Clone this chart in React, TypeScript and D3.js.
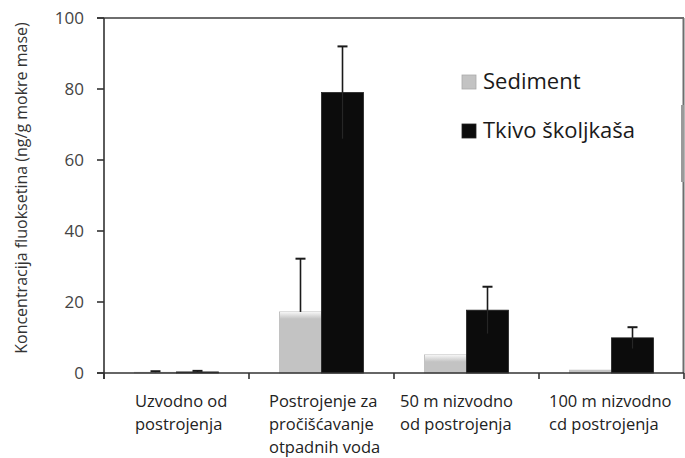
import React from "react";
import * as d3 from "d3";

const categories = [
  ["Uzvodno od", "postrojenja"],
  ["Postrojenje za", "pročišćavanje", "otpadnih voda"],
  ["50 m nizvodno", "od postrojenja"],
  ["100 m nizvodno", "cd postrojenja"],
];
const seriesNames = ["Sediment", "Tkivo školjkaša"];
const sedimentValues = [0.2, 17.2, 5.1, 0.8];
const sedimentErrors = [0.3, 15.0, 0, 0];
const tissueValues = [0.3, 79.0, 17.7, 9.9];
const tissueErrors = [0.3, 13.0, 6.6, 3.0];
const yTicks = [0, 20, 40, 60, 80, 100];
const yLabel = "Koncentracija fluoksetina (ng/g mokre mase)";

const W = 685;
const H = 458;
const left = 104;
const right = 684;
const top = 18;
const bottom = 373;
const labelOffsets = [31, 20, 6, 10];
const FONT = "'Open Sans', 'DejaVu Sans', sans-serif";

export default function App() {
  const x = d3
    .scaleBand<number>()
    .domain(d3.range(categories.length))
    .range([left, right])
    .padding(0);
  const inner = d3
    .scaleBand<number>()
    .domain([0, 1])
    .range([0, x.bandwidth()])
    .paddingInner(0)
    .paddingOuter(0.726);
  const y = d3.scaleLinear().domain([0, 100]).range([bottom, top]);
  const bw = inner.bandwidth();

  const series = [
    { values: sedimentValues, errors: sedimentErrors, fill: "#c3c3c3", dark: false },
    { values: tissueValues, errors: tissueErrors, fill: "#0c0c0c", dark: true },
  ];

  return (
    <svg
      width={W}
      height={H}
      style={{ position: "absolute", left: 0, top: 0, background: "#fff" }}
      fontFamily={FONT}
    >
      <defs>
        <linearGradient id="sedTop" x1="0" y1="0" x2="0" y2="1">
          <stop offset="0" stopColor="#f6f6f6" />
          <stop offset="1" stopColor="#c3c3c3" />
        </linearGradient>
      </defs>
      {/* frame top & right */}
      <line x1={97} x2={right} y1={top} y2={top} stroke="#6e6e6e" strokeWidth={2} />
      <line x1={right - 0.5} x2={right - 0.5} y1={top} y2={bottom} stroke="#6e6e6e" strokeWidth={2} />
      <line x1={right - 1.5} x2={right - 1.5} y1={105} y2={182} stroke="#9a9a9a" strokeWidth={3} />

      {/* bars */}
      {series.map((s, si) =>
        s.values.map((v, i) => {
          const bx = (x(i) as number) + (inner(si) as number);
          const by = y(v);
          const h = bottom - by;
          return (
            <g key={`b${si}-${i}`}>
              <rect x={bx} y={by} width={bw} height={h} fill={s.fill} stroke={s.dark ? "#222" : "#bbb"} strokeWidth={0.8} />
              {!s.dark && h > 4 && (
                <rect x={bx + 0.5} y={by} width={bw - 1} height={Math.min(7, h)} fill="url(#sedTop)" />
              )}
            </g>
          );
        })
      )}

      {/* error bars */}
      {series.map((s, si) =>
        s.values.map((v, i) => {
          const e = s.errors[i];
          if (!e) return null;
          const cx = (x(i) as number) + (inner(si) as number) + bw / 2;
          return (
            <g key={`e${si}-${i}`} stroke="#1a1a1a" strokeWidth={1.6}>
              {s.dark && (
                <line x1={cx} x2={cx} y1={y(v)} y2={y(Math.max(0, v - e))} stroke="#262626" strokeWidth={1.2} />
              )}
              <line x1={cx} x2={cx} y1={y(v + e)} y2={y(v)} />
              <line x1={cx - 5} x2={cx + 5} y1={y(v + e)} y2={y(v + e)} strokeWidth={2} />
            </g>
          );
        })
      )}

      {/* axes */}
      <line x1={97} x2={right} y1={bottom} y2={bottom} stroke="#333" strokeWidth={1.6} />
      <line x1={left} x2={left} y1={top} y2={bottom + 6} stroke="#333" strokeWidth={1.6} />
      {yTicks.map((t) => (
        <g key={`yt${t}`}>
          <line x1={97} x2={left} y1={y(t)} y2={y(t)} stroke="#333" strokeWidth={1.6} />
          <text x={84} y={y(t)} dy="0.35em" textAnchor="end" fontSize={17} fill="#444">
            {t}
          </text>
        </g>
      ))}
      {d3.range(categories.length + 1).map((i) => {
        const tx = i < categories.length ? (x(i) as number) : right;
        return <line key={`xt${i}`} x1={tx} x2={tx} y1={bottom} y2={bottom + 6} stroke="#333" strokeWidth={1.6} />;
      })}
      {categories.map((lines, i) => (
        <text key={`cl${i}`} x={(x(i) as number) + labelOffsets[i]} y={407} fontSize={16.5} fill="#222">
          {lines.map((l, li) => (
            <tspan key={li} x={(x(i) as number) + labelOffsets[i]} dy={li === 0 ? 0 : 23}>
              {l}
            </tspan>
          ))}
        </text>
      ))}

      {/* y label */}
      <text
        transform={`translate(27, ${188}) rotate(-90)`}
        textAnchor="middle"
        fontSize={16}
        fill="#333"
      >
        {yLabel}
      </text>

      {/* legend */}
      {seriesNames.map((n, i) => (
        <g key={`lg${i}`} transform={`translate(462, ${89 + i * 49})`}>
          <rect x={0} y={-14} width={14} height={14} fill={series[i].fill} stroke={i === 0 ? "#aaa" : "#222"} strokeWidth={0.8} />
          <text x={21} y={0} fontSize={22} fill="#1a1a1a">
            {n}
          </text>
        </g>
      ))}
    </svg>
  );
}
